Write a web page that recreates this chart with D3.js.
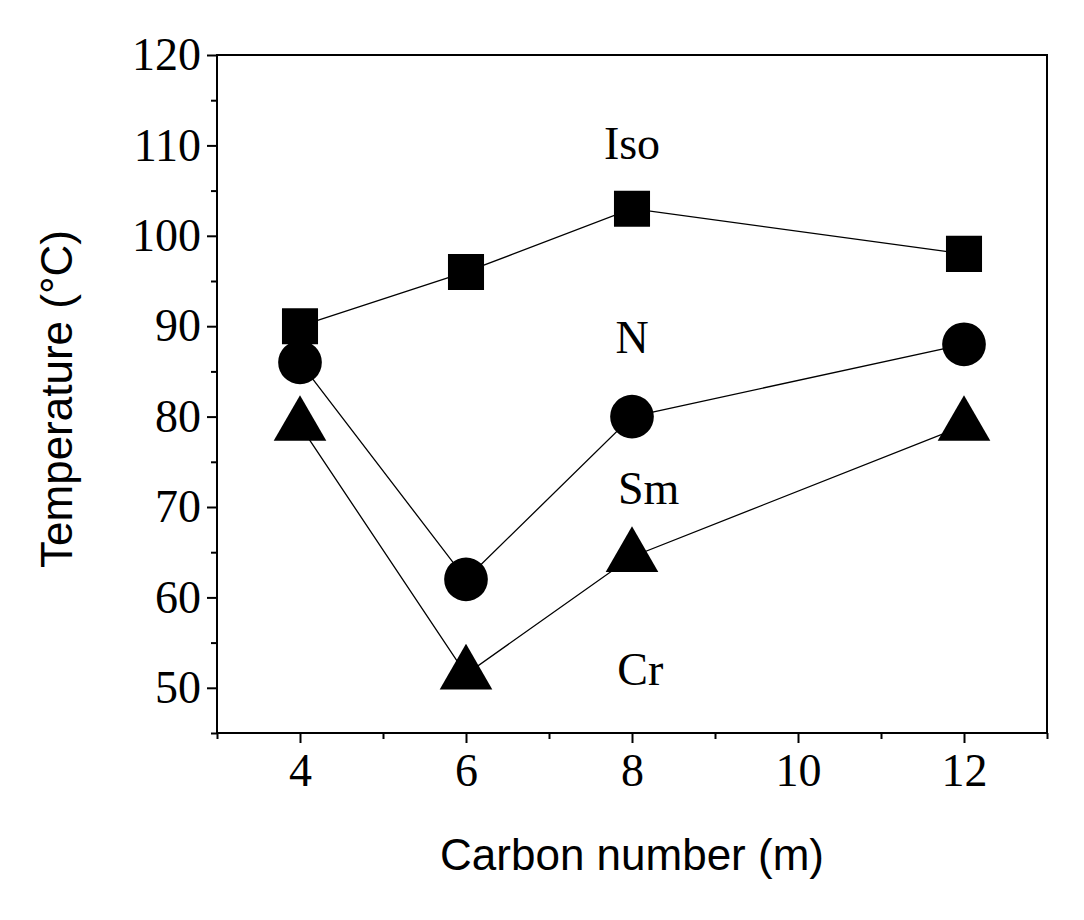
<!DOCTYPE html>
<html><head><meta charset="utf-8">
<script src="https://cdn.jsdelivr.net/npm/d3@7"></script>
<style>body{margin:0;background:#fff}</style>
</head><body>
<svg id="chart" width="1084" height="920"></svg>
<script>
var carbon = [4, 6, 8, 12],
	isoT = [90, 96, 103, 98],
	nT = [86, 62, 80, 88],
	crT = [79, 51.5, 64.5, 79],
	yTicks = [50, 60, 70, 80, 90, 100, 110, 120],
	xTicks = [4, 6, 8, 10, 12],
	phaseLabels = [
		{text: 'Iso', x: 8, y: 108.5},
		{text: 'N', x: 8, y: 87},
		{text: 'Sm', x: 8.2, y: 70.3},
		{text: 'Cr', x: 8.1, y: 50.3}
	];

(function () {
	var svg = d3.select('#chart'),
		left = 217, right = 1047, plotTop = 55, bottom = 733,
		x = d3.scaleLinear().domain([3, 13]).range([left, right]),
		y = d3.scaleLinear().domain([45, 120]).range([bottom, plotTop]),
		serif = 'Liberation Serif, Times New Roman, serif',
		sans = 'Liberation Sans, Arial, sans-serif';

	// frame
	svg.append('rect').attr('x', left).attr('y', plotTop).attr('width', right - left).attr('height', bottom - plotTop)
		.attr('fill', 'none').attr('stroke', '#000').attr('stroke-width', 2);

	var yAxis = svg.append('g').attr('transform', 'translate(' + left + ',0)')
		.call(d3.axisLeft(y).tickValues(yTicks).tickSize(10).tickPadding(6));
	yAxis.append('g').call(d3.axisLeft(y).tickValues(d3.range(45, 120, 10)).tickSize(6).tickFormat(''));
	var xAxis = svg.append('g').attr('transform', 'translate(0,' + bottom + ')')
		.call(d3.axisBottom(x).tickValues(xTicks).tickSize(10).tickPadding(10));
	xAxis.append('g').call(d3.axisBottom(x).tickValues([3, 5, 7, 9, 11, 13]).tickSize(6).tickFormat(''));
	svg.selectAll('.domain').remove();
	svg.selectAll('.tick line').attr('stroke-width', 2);
	svg.selectAll('.tick text').attr('font-family', serif).attr('font-size', 46).attr('fill', '#000');

	svg.append('text').attr('x', 632).attr('y', 870).attr('text-anchor', 'middle')
		.attr('font-family', sans).attr('font-size', 44).text('Carbon number (m)');
	svg.append('text').attr('transform', 'translate(72,' + ((plotTop + bottom) / 2 + 5) + ') rotate(-90)')
		.attr('text-anchor', 'middle').attr('font-family', sans).attr('font-size', 44)
		.text('Temperature (°C)');

	var line = d3.line().x(function (d) { return x(d[0]); }).y(function (d) { return y(d[1]); });
	var series = [
		{vals: isoT, sym: d3.symbolSquare, size: 1300},
		{vals: nT, sym: d3.symbolCircle, size: 1500},
		{vals: crT, sym: d3.symbolTriangle, size: 1200}
	];
	series.forEach(function (s) {
		var pts = d3.zip(carbon, s.vals);
		svg.append('path').attr('d', line(pts)).attr('fill', 'none').attr('stroke', '#000').attr('stroke-width', 1.3);
		svg.selectAll(null).data(pts).enter().append('path')
			.attr('transform', function (d) { return 'translate(' + x(d[0]) + ',' + y(d[1]) + ')'; })
			.attr('d', d3.symbol().type(s.sym).size(s.size)).attr('fill', '#000');
	});

	svg.selectAll(null).data(phaseLabels).enter().append('text')
		.attr('x', function (d) { return x(d.x); }).attr('y', function (d) { return y(d.y); })
		.attr('text-anchor', 'middle').attr('font-family', serif).attr('font-size', 46)
		.text(function (d) { return d.text; });
}());
</script>
</body></html>
